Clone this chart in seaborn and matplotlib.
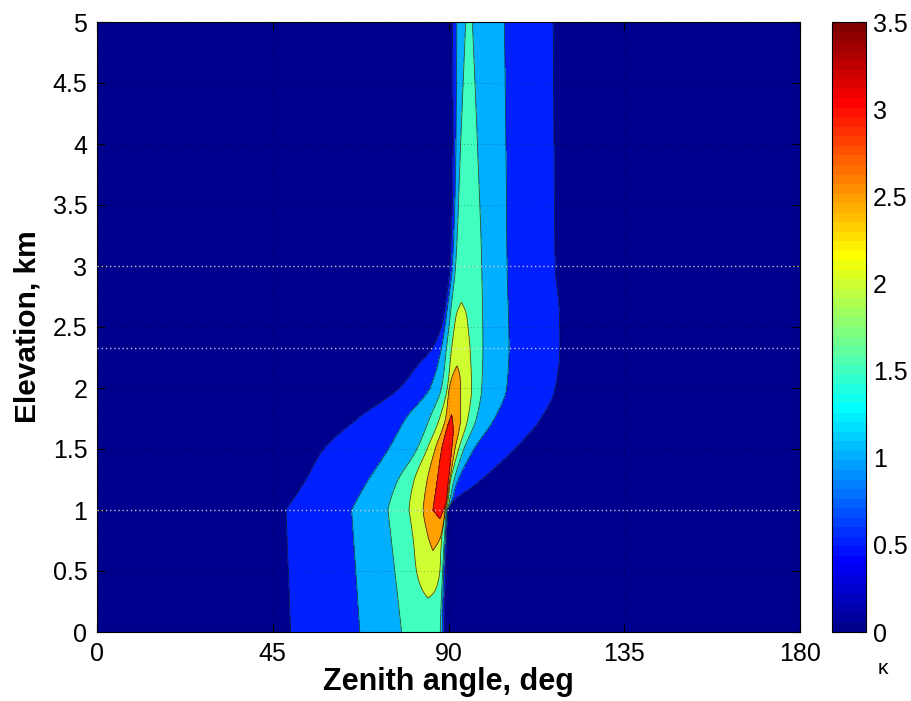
import numpy as np
import matplotlib
matplotlib.use("Agg")
import matplotlib.pyplot as plt
import seaborn as sns
from matplotlib.colors import ListedColormap, Normalize
from matplotlib.cm import ScalarMappable
from matplotlib.ticker import FuncFormatter

# ---------------------------------------------------------------- data
kappa_levels = [0.0, 0.5, 1.0, 1.5, 2.0, 2.5, 3.0, 3.5]
zenith_ticks = [0, 45, 90, 135, 180]
elevation_ticks = [0, 0.5, 1, 1.5, 2, 2.5, 3, 3.5, 4, 4.5, 5]
marked_elevations = [1.0, 2.33, 3.0]
break_elevation = 1.0

# Iso-kappa boundaries: zenith angle (deg) of the left and right crossing
# of each level as a function of elevation (km).
k05_left_elev = [0.0, 1.0, 1.22, 1.49, 1.76, 2.0, 2.17, 2.33, 2.5, 2.7, 3.0, 4.0, 5.0]
k05_left_deg = [49.6, 48.4, 53.0, 57.9, 67.3, 77.6, 81.8, 86.0, 88.2, 89.3, 90.4, 91.2, 91.0]
k05_right_elev = [0.0, 0.5, 1.0, 1.06, 1.22, 1.49, 1.76, 2.0, 2.33, 2.6, 3.0, 4.0, 5.0]
k05_right_deg = [88.9, 89.2, 89.8, 90.8, 97.2, 106.5, 113.8, 117.3, 118.5, 118.4, 117.3, 117.0, 116.8]

k10_left_elev = [0.0, 1.0, 1.22, 1.49, 1.76, 2.0, 2.33, 2.7, 3.0, 4.0, 5.0]
k10_left_deg = [67.3, 65.2, 69.0, 74.5, 79.3, 85.3, 88.2, 89.9, 91.0, 91.9, 92.1]
k10_right_elev = [0.0, 0.5, 1.0, 1.04, 1.22, 1.49, 1.76, 2.0, 2.33, 3.0, 4.0, 5.0]
k10_right_deg = [88.4, 88.8, 89.6, 90.4, 92.1, 96.3, 101.9, 104.9, 105.5, 105.0, 104.7, 104.3]

k15_left_elev = [0.0, 1.0, 1.22, 1.49, 1.76, 2.0, 2.33, 2.7, 3.0, 4.0, 5.0]
k15_left_deg = [78.0, 74.5, 76.7, 81.8, 85.3, 88.2, 89.5, 90.8, 91.8, 93.1, 94.4]
k15_right_elev = [0.0, 0.5, 1.0, 1.04, 1.22, 1.49, 1.76, 2.0, 2.33, 3.0, 4.0, 5.0]
k15_right_deg = [87.9, 88.5, 89.4, 90.0, 91.2, 93.8, 97.2, 98.5, 98.8, 98.5, 97.4, 96.1]

k20_left_elev = [0.28, 0.34, 0.5, 0.75, 1.0, 1.22, 1.49, 1.76, 2.0, 2.33, 2.5, 2.6, 2.7]
k20_left_deg = [84.8, 83.4, 81.8, 81.0, 79.9, 81.0, 84.4, 87.8, 89.7, 90.8, 91.5, 92.0, 93.3]
k20_right_elev = [0.28, 0.34, 0.5, 0.75, 1.0, 1.04, 1.22, 1.49, 1.76, 2.0, 2.33, 2.5, 2.6, 2.7]
k20_right_deg = [84.8, 86.6, 87.8, 88.2, 89.2, 89.7, 90.4, 92.5, 95.0, 95.9, 95.5, 95.0, 94.6, 93.3]

k25_left_elev = [0.67, 0.78, 1.0, 1.22, 1.49, 1.76, 2.0, 2.1, 2.18]
k25_left_deg = [86.0, 84.8, 83.5, 84.4, 86.5, 89.3, 90.2, 91.0, 92.2]
k25_right_elev = [0.67, 0.78, 1.0, 1.04, 1.22, 1.49, 1.76, 2.0, 2.1, 2.18]
k25_right_deg = [86.0, 88.0, 89.0, 89.4, 90.2, 91.6, 93.1, 93.1, 92.9, 92.2]

k30_left_elev = [0.93, 1.0, 1.22, 1.49, 1.65, 1.78]
k30_left_deg = [87.8, 86.0, 87.0, 88.2, 89.4, 90.8]
k30_right_elev = [0.93, 1.0, 1.05, 1.22, 1.49, 1.65, 1.78]
k30_right_deg = [87.8, 88.8, 89.3, 89.9, 90.8, 91.2, 90.8]

boundaries = [
    (0.5, k05_left_elev, k05_left_deg, k05_right_elev, k05_right_deg),
    (1.0, k10_left_elev, k10_left_deg, k10_right_elev, k10_right_deg),
    (1.5, k15_left_elev, k15_left_deg, k15_right_elev, k15_right_deg),
    (2.0, k20_left_elev, k20_left_deg, k20_right_elev, k20_right_deg),
    (2.5, k25_left_elev, k25_left_deg, k25_right_elev, k25_right_deg),
    (3.0, k30_left_elev, k30_left_deg, k30_right_elev, k30_right_deg),
]

# ---------------------------------------------------------------- field
theta = np.linspace(0.0, 180.0, 3601)
elev = np.linspace(0.0, 5.0, 501)


def pchip(xk, yk, xq):
    """Shape-preserving piecewise cubic Hermite interpolation."""
    xk = np.asarray(xk, float)
    yk = np.asarray(yk, float)
    xq = np.asarray(xq, float)
    n = len(xk)
    if n == 2:
        return np.interp(xq, xk, yk)
    h = np.diff(xk)
    d = np.diff(yk) / h
    m = np.zeros(n)
    for k in range(1, n - 1):
        if d[k - 1] * d[k] > 0:
            w1 = 2 * h[k] + h[k - 1]
            w2 = h[k] + 2 * h[k - 1]
            m[k] = (w1 + w2) / (w1 / d[k - 1] + w2 / d[k])

    def end_slope(h0, h1, d0, d1):
        s = ((2 * h0 + h1) * d0 - h0 * d1) / (h0 + h1)
        if np.sign(s) != np.sign(d0):
            s = 0.0
        elif np.sign(d0) != np.sign(d1) and abs(s) > abs(3 * d0):
            s = 3 * d0
        return s

    m[0] = end_slope(h[0], h[1], d[0], d[1])
    m[-1] = end_slope(h[-1], h[-2], d[-1], d[-2])
    i = np.clip(np.searchsorted(xk, xq) - 1, 0, n - 2)
    t = (xq - xk[i]) / h[i]
    h00 = 2 * t**3 - 3 * t**2 + 1
    h10 = t**3 - 2 * t**2 + t
    h01 = -2 * t**3 + 3 * t**2
    h11 = t**3 - t**2
    return h00 * yk[i] + h10 * h[i] * m[i] + h01 * yk[i + 1] + h11 * h[i] * m[i + 1]


def boundary_on_grid(e_knots, d_knots):
    """Crossing angle on the elevation grid, with a sharp bend kept at the break."""
    e_knots = np.asarray(e_knots, float)
    d_knots = np.asarray(d_knots, float)
    out = np.full(elev.shape, np.nan)
    inside = (elev >= e_knots[0] - 1e-9) & (elev <= e_knots[-1] + 1e-9)
    eq = np.clip(elev[inside], e_knots[0], e_knots[-1])
    if e_knots[0] < break_elevation < e_knots[-1] and break_elevation in e_knots:
        j = int(np.where(e_knots == break_elevation)[0][0])
        lo = pchip(e_knots[: j + 1], d_knots[: j + 1], eq)
        hi = pchip(e_knots[j:], d_knots[j:], eq)
        vals = np.where(eq <= break_elevation, lo, hi)
    else:
        vals = pchip(e_knots, d_knots, eq)
    out[inside] = vals
    return out


curves = [(lev, boundary_on_grid(le, ld), boundary_on_grid(rel, rd))
          for lev, le, ld, rel, rd in boundaries]


def kappa_row(r):
    present = [(lev, lc[r], rc[r]) for lev, lc, rc in curves if not np.isnan(lc[r])]
    xs, vs = [0.0], [0.0]
    for lev, xl, _ in present:
        xs.append(xl)
        vs.append(lev)
    top, tl, tr = present[-1]
    xs.append(0.5 * (tl + tr))
    vs.append(top + 0.25)
    for lev, _, xr in reversed(present):
        xs.append(xr)
        vs.append(lev)
    xs.append(180.0)
    vs.append(0.0)
    xs = np.maximum.accumulate(np.array(xs)) + np.arange(len(xs)) * 1e-6
    return np.interp(theta, xs, np.array(vs))


kappa = np.vstack([kappa_row(r) for r in range(len(elev))])


# ---------------------------------------------------------------- colours
def matlab_jet(m=64):
    n = int(np.ceil(m / 4))
    u = np.concatenate([np.arange(1, n + 1) / n, np.ones(n - 1), np.arange(n, 0, -1) / n])
    g = int(np.ceil(n / 2)) - (1 if m % 4 == 1 else 0) + np.arange(1, len(u) + 1)
    r = g + n
    b = g - n
    J = np.zeros((m, 3))
    for idx, col in ((r, 0), (g, 1), (b, 2)):
        ok = (idx >= 1) & (idx <= m)
        J[idx[ok] - 1, col] = u[ok]
    return J


jet64 = matlab_jet(64)
cmap = ListedColormap(jet64)
vmax = kappa_levels[-1]
band_colors = [jet64[min(int(v / vmax * 64), 63)] for v in kappa_levels[:-1]]

# ---------------------------------------------------------------- figure
sns.set_theme(style="ticks")
plt.rcParams["font.family"] = ["Liberation Sans", "DejaVu Sans"]
plt.rcParams.update({
    "axes.edgecolor": "black",
    "text.color": "black",
    "axes.labelcolor": "black",
    "xtick.color": "black",
    "ytick.color": "black",
})

fig = plt.figure(figsize=(9.12, 7.01), dpi=100)
ax = fig.add_axes([97 / 912, 69 / 701, 703 / 912, 610 / 701])
cax = fig.add_axes([832 / 912, 69 / 701, 34 / 912, 610 / 701])

ax.contourf(theta, elev, kappa, levels=kappa_levels, colors=band_colors)
ax.contour(theta, elev, kappa, levels=kappa_levels[1:-1], colors="k",
           linewidths=0.55, alpha=0.85)

for y in marked_elevations:
    ax.axhline(y, color=(0.85, 0.87, 0.97), linestyle=(0, (1, 2)),
               linewidth=1.0, alpha=0.85, zorder=4)

ax.set_xlim(0, 180)
ax.set_ylim(0, 5)
ax.set_xticks(zenith_ticks)
ax.set_yticks(elevation_ticks)
fmt = FuncFormatter(lambda v, p: f"{v:g}")
ax.xaxis.set_major_formatter(fmt)
ax.yaxis.set_major_formatter(fmt)
ax.set_axisbelow(False)
ax.grid(True, color="k", linestyle=(0, (1, 3)), linewidth=0.6, alpha=0.45)
ax.tick_params(direction="in", top=True, right=True, length=6, width=0.8,
               labelsize=18, pad=7)
for s in ax.spines.values():
    s.set_linewidth(0.8)
    s.set_color("black")

ax.set_xlabel("Zenith angle, deg", fontsize=22, fontweight="bold", labelpad=1)
ax.set_ylabel("Elevation, km", fontsize=21.5, fontweight="bold", labelpad=8)

sm = ScalarMappable(norm=Normalize(0, vmax), cmap=cmap)
cb = fig.colorbar(sm, cax=cax, ticks=kappa_levels)
cb.ax.yaxis.set_major_formatter(fmt)
cb.ax.tick_params(direction="in", left=True, right=True, length=5, width=0.8,
                  labelsize=18, pad=5)
cb.outline.set_linewidth(0.8)
cb.outline.set_edgecolor("black")

fig.text(883 / 912, 1 - 668 / 701, "κ", fontsize=15, ha="center", va="center")

fig.savefig("out.png", dpi=100)
